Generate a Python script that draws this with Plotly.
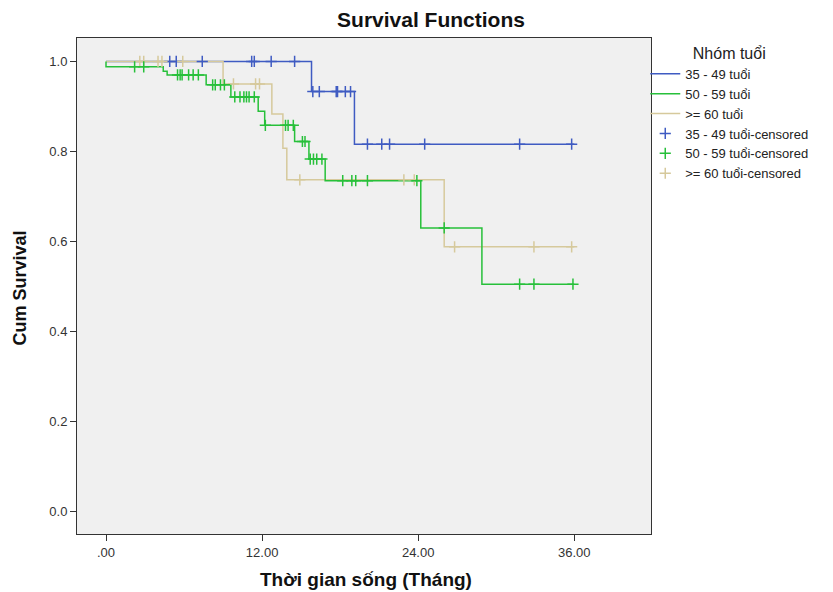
import plotly.graph_objects as go

# ---------------- data ----------------
groups = ["35 - 49 tuổi", "50 - 59 tuổi", ">= 60 tuổi"]

blue_t = [0, 15.8, 19.1, 36.0]
blue_s = [1.0, 0.933, 0.816, 0.816]
blue_cens = [4.9, 5.4, 7.4, 11.2, 11.4, 12.7, 14.5, 15.9, 16.4, 17.7, 17.8, 18.4, 18.8,
             20.1, 21.2, 21.8, 24.5, 31.8, 35.8]

green_t = [0, 0, 4.4, 4.7, 7.7, 9.6, 11.7, 12.2, 14.5, 15.6, 16.85, 24.2, 28.9, 36.0]
green_s = [1.0, 0.988, 0.978, 0.970, 0.948, 0.921, 0.889, 0.858, 0.822, 0.783, 0.735,
           0.630, 0.505, 0.505]
green_cens = [2.2, 2.9, 5.5, 5.7, 5.85, 6.35, 6.7, 7.1, 8.2, 8.4, 8.8, 9.1,
              9.9, 10.3, 10.6, 10.8, 11.0, 11.4, 12.25, 13.8, 14.0, 14.4, 15.1, 15.3,
              15.7, 15.95, 16.2, 16.6, 18.2, 18.9, 19.2, 20.1, 23.9, 26.0, 31.8, 32.9, 35.9]

tan_t = [0, 9.0, 12.75, 13.6, 13.9, 26.0, 36.0]
tan_s = [1.0, 0.950, 0.883, 0.807, 0.737, 0.588, 0.588]
tan_cens = [2.6, 2.9, 4.0, 4.3, 5.9, 9.8, 11.5, 11.8, 14.9, 22.9, 23.7, 26.8, 32.9, 35.8]

x_tickvals = [0, 12, 24, 36]
x_ticktext = [".00", "12.00", "24.00", "36.00"]
y_tickvals = [0.0, 0.2, 0.4, 0.6, 0.8, 1.0]
y_ticktext = ["0.0", "0.2", "0.4", "0.6", "0.8", "1.0"]

colors = {"blue": "#3F5BC2", "green": "#27C03A", "tan": "#D6C99C"}


def step_value(ts, ss, t):
    val = ss[0]
    for ti, si in zip(ts, ss):
        if ti <= t:
            val = si
    return val


fig = go.Figure()

curves = [
    ("blue", groups[0], blue_t, blue_s, blue_cens, 1),
    ("tan", groups[2], tan_t, tan_s, tan_cens, 3),
    ("green", groups[1], green_t, green_s, green_cens, 2),
]

for key, name, ts, ss, cens, rank in curves:
    fig.add_trace(go.Scatter(
        x=ts, y=ss, mode="lines", line=dict(color=colors[key], width=1.5, shape="hv"),
        name=name, legendrank=rank, hoverinfo="skip"))

for key, name, ts, ss, cens, rank in curves:
    fig.add_trace(go.Scatter(
        x=cens, y=[step_value(ts, ss, c) for c in cens], mode="markers",
        marker=dict(symbol="cross-thin", size=8, color=colors[key],
                    line=dict(color=colors[key], width=1.5)),
        name=name + "-censored", legendrank=rank + 3, hoverinfo="skip"))

font_family = "Arial, Liberation Sans, sans-serif"

fig.update_layout(
    width=833, height=592,
    margin=dict(l=77, r=182, t=38, b=58, autoexpand=False),
    paper_bgcolor="white",
    plot_bgcolor="#F0F0F0",
    font=dict(family=font_family, size=12, color="#222"),
    title=dict(text="<b>Survival Functions</b>", x=431 / 833, xanchor="center",
               y=1 - 20 / 592, yanchor="middle", xref="container", yref="container",
               font=dict(size=21, color="#111")),
    showlegend=True,
    legend=dict(x=0.99, xanchor="left", y=1.0, yanchor="top",
                bgcolor="rgba(0,0,0,0)", borderwidth=0,
                font=dict(size=13, color="#222"),
                title=dict(text="Nhóm tuổi", side="top center", font=dict(size=16, color="#222")),
                tracegroupgap=0),
    xaxis=dict(range=[-2.23, 41.9], tickvals=x_tickvals, ticktext=x_ticktext,
               showgrid=False, zeroline=False, showline=True, mirror=True, automargin=False,
               linecolor="#333", linewidth=1, ticks="outside", ticklen=6,
               tickcolor="#333", tickfont=dict(size=13, color="#333")),
    yaxis=dict(range=[-0.05, 1.052], tickvals=y_tickvals, ticktext=y_ticktext,
               showgrid=False, zeroline=False, showline=True, mirror=True, automargin=False,
               linecolor="#333", linewidth=1, ticks="outside", ticklen=6,
               tickcolor="#333", tickfont=dict(size=13, color="#333")),
    annotations=[
        dict(text="<b>Thời gian sống (Tháng)</b>", xref="paper", yref="paper",
             x=0.503, y=-0.0927, xanchor="center", yanchor="middle", showarrow=False,
             font=dict(size=19, color="#111")),
        dict(text="<b>Cum Survival</b>", xref="paper", yref="paper",
             x=-0.0993, y=0.495, xanchor="center", yanchor="middle", showarrow=False,
             textangle=-90, font=dict(size=18, color="#111")),
    ],
)

fig.write_html("out.html", config={"displayModeBar": False},
               post_script="document.body.style.margin='0';document.body.style.padding='0';")
